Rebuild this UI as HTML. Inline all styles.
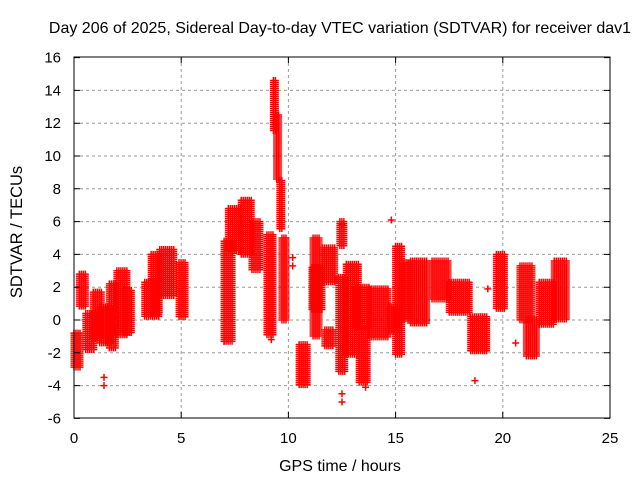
<!DOCTYPE html>
<html><head><meta charset="utf-8"><style>
body{margin:0;background:#fff;}
svg{display:block;font-family:"Liberation Sans",sans-serif;}
</style></head><body>
<svg id="chart" width="640" height="480">
<rect width="640" height="480" fill="#fff"/>
<text x="340" y="33" font-size="16" text-anchor="middle">Day 206 of 2025, Sidereal Day-to-day VTEC variation (SDTVAR) for receiver dav1</text>
<text transform="translate(22,232) rotate(-90)" font-size="16.5" text-anchor="middle">SDTVAR / TECUs</text>
<text x="340" y="471" font-size="16" text-anchor="middle">GPS time / hours</text>
<g id="grid"></g><g id="marks"></g><g id="axes"></g>
</svg>
<script>
const xTicks=[0,5,10,15,20,25];
const yTicks=[-6,-4,-2,0,2,4,6,8,10,12,14,16];
const binStart=[0.0,0.25,0.55,0.9,1.2,1.65,2.0,2.3,3.3,3.6,4.0,4.9,7.0,7.2,7.8,8.3,9.0,9.3,9.45,9.6,9.7,10.5,11.1,11.15,11.6,11.7,12.4,12.35,12.7,13.1,13.3,13.8,14.7,15.0,15.3,15.7,16.7,17.5,18.5,19.7,20.8,21.1,21.7,22.4];
const binEnd=[0.35,0.6,1.0,1.3,1.7,2.0,2.5,2.7,4.0,4.0,4.7,5.2,7.4,7.8,8.3,8.7,9.3,9.45,9.6,9.75,9.9,10.9,11.6,11.45,12.2,12.1,12.65,12.7,13.3,13.8,13.7,14.7,15.1,15.3,15.7,16.5,17.5,18.5,19.3,20.1,21.4,21.6,22.4,23.0];
const binLo=[-2.9,0.8,-1.8,-1.2,-1.4,-1.8,-1.0,-0.8,0.2,0.4,1.4,0.2,-1.4,4.2,4.0,3.0,-1.0,11.5,8.5,5.5,0,-4.0,0.6,-1.0,2.3,-1.6,4.5,-3.2,-2.2,-0.5,-3.8,-1.1,-0.7,-2.2,0,-0.3,1.2,0.4,-1.9,0.6,-0.1,-2.3,-0.3,0.0];
const binHi=[-0.8,2.8,0.4,1.7,0.8,2.2,3.0,1.8,2.3,4.0,4.3,3.5,4.8,6.8,7.3,6.0,5.2,14.6,12.5,8.5,5.0,-1.5,3.2,5.0,4.4,-0.6,6.0,2.6,3.4,2.0,-0.5,1.9,0.8,4.5,3.5,3.6,3.6,2.3,0.2,4.0,3.3,0,2.3,3.6];
const outT=[1.4,1.4,7.0,10.2,10.2,12.5,12.5,14.8,18.7,20.6,19.3,13.6,12.5,9.2];
const outV=[-4.0,-3.5,-1.3,3.8,3.3,-4.5,-5.0,6.1,-3.7,-1.4,1.9,-4.1,5.8,-1.2];
const X=t=>74+t*21.44, Y=v=>320-v*16.4;
const NS="http://www.w3.org/2000/svg";
const grid=document.getElementById('grid'),marks=document.getElementById('marks'),axes=document.getElementById('axes');
function mk(tag,attrs,parent){const e=document.createElementNS(NS,tag);for(const k in attrs)e.setAttribute(k,attrs[k]);parent.appendChild(e);return e;}
xTicks.forEach(t=>{
 if(t>0&&t<25){const g=mk('line',{x1:X(t),x2:X(t),y1:57,y2:418,stroke:'#999','stroke-dasharray':'3,3'},grid);
 
 }
 const tk=mk('path',{d:`M${X(t)} 418v-6M${X(t)} 57v6`,stroke:'#000'},axes);
 
 
 const lb=mk('text',{x:X(t),y:443,'font-size':15,'text-anchor':'middle'},axes);lb.textContent=t;
 
 
});
yTicks.forEach(v=>{
 if(v>-6&&v<16){const g=mk('line',{x1:74,x2:610,y1:Y(v),y2:Y(v),stroke:'#999','stroke-dasharray':'3,3'},grid);
 
 }
 const tk=mk('path',{d:`M74 ${Y(v)}h6M610 ${Y(v)}h-6`,stroke:'#000'},axes);
 
 
 const lb=mk('text',{x:61,y:Y(v)+5,'font-size':15,'text-anchor':'end'},axes);lb.textContent=v;
 
 
});
const fr=mk('rect',{x:74,y:57,width:536,height:361,fill:'none',stroke:'#000'},axes);


function plus(x,y){return `M${x-3.5} ${y}h7M${x} ${y-3.5}v7`;}
binStart.forEach((s,i)=>{
 let d='';
 const x0=X(s),x1=X(binEnd[i]),yTop=Y(binHi[i]),yBot=Y(binLo[i]);
 for(let x=x0;x<=x1+0.01;x+=2){for(let y=yTop;y<=yBot+0.01;y+=2){d+=plus(x,y);}}
 const p=mk('path',{d:d,stroke:'#f00','stroke-width':1.5,fill:'none'},marks);
 
 
});
outT.forEach((t,i)=>{
 const p=mk('path',{d:plus(X(t),Y(outV[i])),stroke:'#f00','stroke-width':1.5},marks);
 
 
});
</script>
</body></html>
